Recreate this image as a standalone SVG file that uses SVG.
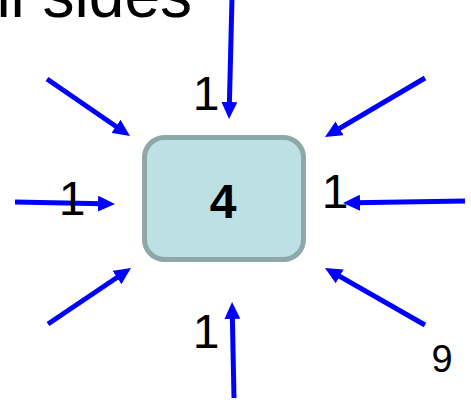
<svg xmlns="http://www.w3.org/2000/svg" width="471" height="404" viewBox="0 0 471 404">
<style>
text{font-family:"Liberation Sans",Arial,sans-serif;fill:#000}
.lbl{font-size:48px;text-anchor:middle}
.arr{stroke:#0000ff;stroke-width:5;fill:none;marker-end:url(#ah)}
</style>
<defs>
<marker id="ah" markerUnits="userSpaceOnUse" markerWidth="17" markerHeight="16" refX="5" refY="8" orient="auto" viewBox="0 0 17 16">
<path d="M0,0 L17,8 L0,16 z" fill="#0000ff"/>
</marker>
</defs>
<text x="192" y="17" style="font-size:64px;text-anchor:end">ll sides</text>
<g id="connectors">
<line class="arr" x1="47" y1="79" x2="120.1" y2="129.2"/>
<line class="arr" x1="425" y1="78" x2="335.3" y2="130.9"/>
<line class="arr" x1="48" y1="324" x2="121.1" y2="274.7"/>
<line class="arr" x1="425" y1="325" x2="335.4" y2="273.9"/>
<line class="arr" x1="232" y1="-2" x2="229.3" y2="107"/>
<line class="arr" x1="234" y1="398" x2="232.3" y2="314"/>
<line class="arr" x1="15" y1="202" x2="103" y2="203.8"/>
<line class="arr" x1="465" y1="201" x2="355" y2="202.8"/>
</g>
<g id="node4">
<rect x="144.5" y="137.5" width="159" height="122" rx="20" fill="#bce0e3" stroke="#8ea8aa" stroke-width="5"/>
<text x="223" y="218" style="font-size:48px;font-weight:bold;text-anchor:middle">4</text>
</g>
<g id="labels">
<text class="lbl" x="206" y="110">1</text>
<text class="lbl" x="72" y="215">1</text>
<text class="lbl" x="335" y="208">1</text>
<text class="lbl" x="206" y="348">1</text>
<text x="442" y="372" style="font-size:38px;text-anchor:middle">9</text>
</g>
</svg>
